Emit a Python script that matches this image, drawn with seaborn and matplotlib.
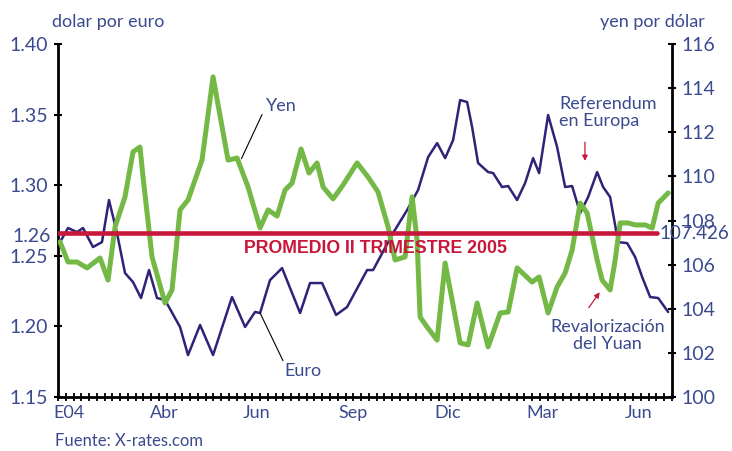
import numpy as np
import pandas as pd
import matplotlib
matplotlib.use("Agg")
import matplotlib.pyplot as plt
import seaborn as sns

# Data (x = week index since Jan 2004)
euro_week = [0.26, 1.29, 2.45, 3.22, 4.50, 5.66, 6.56, 7.59, 8.62, 9.65, 10.68, 11.71, 12.74, 13.77,
             15.70, 16.73, 18.28, 19.95, 22.39, 24.07, 25.35, 26.00, 27.28, 28.83, 30.12, 31.15,
             32.43, 33.98, 35.78, 37.19, 39.77, 40.54, 43.11, 44.92, 46.33, 47.62, 48.78, 49.81,
             50.84, 51.74, 52.64, 53.28, 54.05, 55.34, 55.98, 57.14, 57.92, 59.07, 60.10, 61.13,
             61.90, 63.06, 64.22, 65.25, 66.15, 67.18, 68.21, 69.37, 70.14, 71.04, 72.07, 73.23,
             74.26, 75.16, 76.19, 77.22, 78.51]
euro_val = [1.2597, 1.2697, 1.2668, 1.2697, 1.2562, 1.2597, 1.2895, 1.2661, 1.2378, 1.2314, 1.2201,
            1.2399, 1.2201, 1.2187, 1.1996, 1.1797, 1.2010, 1.1797, 1.2208, 1.1996, 1.2102, 1.2095,
            1.2328, 1.2413, 1.2236, 1.2095, 1.2307, 1.2307, 1.2081, 1.2137, 1.2399, 1.2399, 1.2661,
            1.2824, 1.2966, 1.3199, 1.3298, 1.3192, 1.3320, 1.3603, 1.3589, 1.3412, 1.3157, 1.3093,
            1.3086, 1.2987, 1.2994, 1.2895, 1.3015, 1.3192, 1.3086, 1.3497, 1.3270, 1.2987, 1.2994,
            1.2803, 1.2916, 1.3093, 1.2987, 1.2916, 1.2597, 1.2590, 1.2491, 1.2350, 1.2208, 1.2201,
            1.2102]

yen_week = [0.26, 1.29, 2.45, 3.73, 5.41, 6.44, 7.34, 8.62, 9.65, 10.55, 10.94, 12.10, 13.77, 14.67,
            15.70, 16.73, 18.53, 19.95, 21.88, 23.04, 24.45, 26.00, 27.03, 28.19, 29.21, 30.12,
            31.27, 32.30, 33.33, 34.11, 35.39, 36.68, 38.48, 39.90, 41.18, 42.47, 43.37, 44.66,
            45.56, 46.20, 46.59, 47.49, 48.78, 49.81, 50.71, 51.74, 52.77, 53.93, 55.34, 56.89,
            57.92, 59.07, 61.00, 61.90, 63.06, 64.22, 65.25, 66.15, 67.18, 68.08, 69.37, 70.01,
            71.04, 71.69, 72.33, 73.36, 74.26, 75.55, 76.45, 77.22, 78.51]
yen_val = [107.03, 106.12, 106.12, 105.85, 106.30, 105.30, 107.71, 109.07, 111.11, 111.33, 109.97,
           106.35, 104.26, 104.85, 108.48, 108.93, 110.74, 114.51, 110.74, 110.83, 109.52, 107.66,
           108.48, 108.20, 109.38, 109.70, 111.24, 110.15, 110.61, 109.52, 108.98, 109.61, 110.61,
           109.97, 109.29, 107.71, 106.21, 106.35, 109.07, 107.12, 103.63, 103.17, 102.58, 106.07,
           104.40, 102.45, 102.36, 104.26, 102.27, 103.81, 103.85, 105.85, 105.21, 105.44, 103.81,
           104.99, 105.62, 106.66, 108.79, 108.34, 106.21, 105.30, 104.85, 106.21, 107.89, 107.89,
           107.80, 107.80, 107.66, 108.79, 109.25]

promedio_yen = 107.426
promedio_eur = 1.264

month_labels = ['E04', 'Abr', 'Jun', 'Sep', 'Dic', 'Mar', 'Jun']
month_pos = [1.42, 13.64, 25.61, 37.97, 50.19, 62.29, 74.65]

euro_df = pd.DataFrame({'semana': euro_week, 'euro': euro_val})
yen_df = pd.DataFrame({'semana': yen_week, 'yen': yen_val})

# colours
txt_col = '#3b4a8f'
euro_col = '#2e2378'
yen_col = '#74b946'
red_col = '#c8173a'

sns.set_style("white")
plt.rcParams['font.family'] = ['Lato', 'DejaVu Sans']
plt.rcParams['xtick.bottom'] = True
plt.rcParams['ytick.left'] = True
plt.rcParams['ytick.right'] = False

fig = plt.figure(figsize=(7.32, 4.51), dpi=100)
ax = fig.add_axes([58/732, 1 - 397/451, 614/732, 353/451])
ax2 = ax.twinx()

sns.lineplot(data=euro_df, x='semana', y='euro', ax=ax, color=euro_col, linewidth=1.8,
             solid_joinstyle='round')
sns.lineplot(data=yen_df, x='semana', y='yen', ax=ax2, color=yen_col, linewidth=3.6,
             solid_joinstyle='round', solid_capstyle='round')

# promedio line
ax2.axhline(promedio_yen, xmin=0, xmax=599/614, color=red_col, linewidth=3.3, zorder=10)
ax2.text(40.9, promedio_yen - 0.68, 'PROMEDIO II TRIMESTRE 2005', color=red_col,
         fontsize=12.8, fontweight='bold', family='Liberation Sans', ha='center', va='center', zorder=11)
ax2.text(77.4, promedio_yen, '107.426', color=txt_col, fontsize=13.5, ha='left', va='center',
         clip_on=False)
ax.text(-0.9, promedio_eur, '1.26', color=txt_col, fontsize=14, ha='right', va='center', clip_on=False)

# axes ranges/ticks
ax.set_xlim(0, 79)
ax.set_ylim(1.15, 1.40)
ax2.set_ylim(100, 116)
ax.set_yticks(np.arange(1.15, 1.401, 0.05))
ax.set_yticklabels(['%.2f' % v for v in np.arange(1.15, 1.401, 0.05)])
ax2.set_yticks(np.arange(100, 117, 2))
ax.set_xticks(month_pos)
ax.set_xticklabels(month_labels)
ax.set_xticks(np.arange(0, 80, 1), minor=True)
ax.set_xlabel('')
ax.set_ylabel('')
ax2.set_ylabel('')

for a in (ax, ax2):
    for s in a.spines.values():
        s.set_color('black')
        s.set_linewidth(2)
    a.spines['top'].set_visible(False)
ax.spines['right'].set_visible(False)
ax2.spines['left'].set_visible(False)
ax2.spines['bottom'].set_visible(False)

ax.tick_params(axis='x', which='major', length=0, pad=6, labelsize=13, labelcolor=txt_col)
ax.tick_params(axis='x', which='minor', direction='inout', length=6, width=1.3, color='black',
               bottom=True)
ax.tick_params(axis='y', direction='inout', length=6, width=1.5, color='black', pad=4,
               labelsize=14, labelcolor=txt_col, left=True)
ax2.tick_params(axis='y', direction='inout', length=6, width=1.5, color='black', pad=4,
                labelsize=14, labelcolor=txt_col, right=True)

# annotations
fig.text(52/732, 1 - 22/451, 'dolar por euro', color=txt_col, fontsize=13, ha='left', va='center')
fig.text(705/732, 1 - 22/451, 'yen por dólar', color=txt_col, fontsize=13, ha='right', va='center')
fig.text(55/732, 1 - 441/451, 'Fuente: X-rates.com', color=txt_col, fontsize=12, ha='left', va='center')

ax2.text(28.8, 113.2, 'Yen', color=txt_col, fontsize=13, ha='center', va='center')
ax2.annotate('', xy=(23.6, 110.8), xytext=(26.25, 112.8),
             arrowprops=dict(arrowstyle='-', color='black', lw=0.8, shrinkA=0, shrinkB=0))
ax.text(31.5, 1.1685, 'Euro', color=txt_col, fontsize=13, ha='center', va='center')
ax.annotate('', xy=(26.0, 1.2095), xytext=(28.95, 1.1757),
            arrowprops=dict(arrowstyle='-', color='black', lw=0.8, shrinkA=0, shrinkB=0))

ax2.text(64.5, 112.9, 'Referendum\nen Europa', color=txt_col, fontsize=13, ha='left', va='center',
         linespacing=1.1)
ax2.annotate('', xy=(67.8, 110.7), xytext=(67.8, 111.55),
             arrowprops=dict(arrowstyle='-|>', color=red_col, lw=0.9, mutation_scale=8,
                             shrinkA=0, shrinkB=0))
ax2.text(70.7, 102.8, 'Revalorización\ndel Yuan', color=txt_col, fontsize=13, ha='center', va='center',
         linespacing=1.1)
ax2.annotate('', xy=(69.7, 104.75), xytext=(68.3, 104.05),
             arrowprops=dict(arrowstyle='-|>', color=red_col, lw=0.9, mutation_scale=8,
                             shrinkA=0, shrinkB=0))

fig.savefig('out.png', dpi=100)
